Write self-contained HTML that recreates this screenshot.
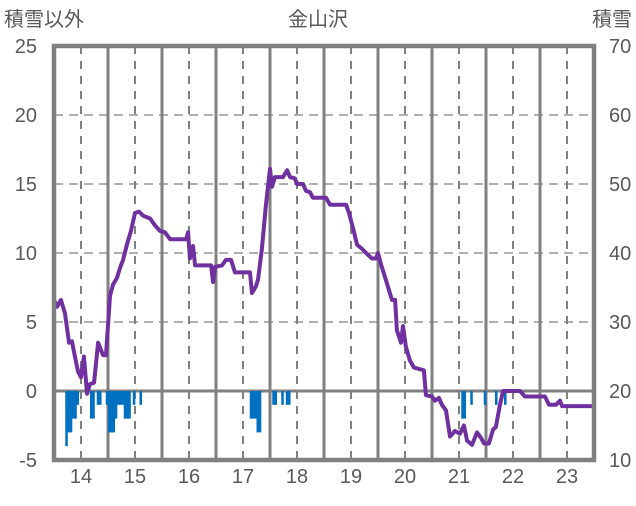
<!DOCTYPE html>
<html><head><meta charset="utf-8"><style>
body{margin:0;background:#fff}
svg text{font-family:"Liberation Sans","Noto Sans CJK JP",sans-serif;fill:#595959}
</style></head><body>
<svg id="c" width="636" height="501" xmlns="http://www.w3.org/2000/svg"></svg>
<script>
const lineHours=[0,1.3,3.1,4.9,6.7,8,9.3,10.7,12,13.3,14.7,16,17.8,19.6,21.8,23.1,24.9,26.2,28,29.3,30.7,32.4,34.2,36,37.8,39.6,42.7,44.9,47.1,49.3,51.6,58.7,59.6,60.4,61.8,62.7,69.8,70.7,71.6,74.7,76.4,78.7,80.4,87.1,88,89.8,90.7,92.4,94.2,96,96.9,98.2,101.8,103.6,104.9,107.1,108,110.7,112,113.8,115.1,120.9,122.7,129.8,131.1,132.9,134.7,136.9,138.7,141.3,143.1,144,145.3,147.6,148.9,150.2,151.6,152.4,154.2,155.1,156.4,158.2,160,164.4,165.3,168,169.3,171.1,172.4,174.2,176,178.2,180.4,182.2,183.6,185.8,188,189.8,191.1,193.3,195.1,196.4,198.2,199.6,207.1,209.3,218.2,220,223.1,224.9,225.8,239.1];
const lineValues=[6.6,6.1,6.6,5.6,3.5,3.6,2.5,1.4,1.0,2.5,-0.2,0.5,0.6,3.5,2.6,2.6,6.9,7.7,8.2,8.9,9.5,10.6,11.6,12.9,13,12.7,12.5,12,11.6,11.5,11,11,11.5,9.6,10.5,9.1,9.1,7.9,9,9.1,9.5,9.5,8.6,8.6,7.1,7.6,8.1,10.3,13.5,16.1,14.8,15.5,15.5,16,15.5,15.4,15,15,14.5,14.4,14,14,13.5,13.5,12.9,11.8,10.6,10.3,10,9.6,9.6,10,9.2,8.0,7.3,6.6,6.6,4.4,3.5,4.7,3.2,2.2,1.7,1.5,-0.3,-0.4,-0.7,-0.5,-1,-1.4,-3.3,-2.9,-3.1,-2.5,-3.6,-3.9,-3.0,-3.4,-3.8,-3.8,-2.8,-2.6,-1.0,0,0,-0.4,-0.4,-1,-1,-0.7,-1.1,-1.1];
const barHours=[5,6,7,8,9,10,16,17,19,20,23,24,25,26,27,28,29,30,31,32,33,35,38,87,88,89,90,91,97,98,101,103,104,181,182,185,191,196,200];
const barValues=[-4,-3,-3,-2,-2,-1,-2,-2,-1,-1,-1,-3,-3,-3,-2,-1,-1,-1,-2,-2,-2,-1,-1,-2,-2,-2,-3,-3,-1,-1,-1,-1,-1,-2,-2,-1,-1,-1,-1];
const leftTicks=[-5,0,5,10,15,20,25];
const rightTicks=[10,20,30,40,50,60,70];
const dayLabels=["14","15","16","17","18","19","20","21","22","23"];
const NS="http://www.w3.org/2000/svg",svg=document.getElementById('c');
const X0=54,X1=594,Y0=46,Y1=460;
const xs=h=>X0+h*(X1-X0)/240;
const ys=v=>Y1-(v+5)*(Y1-Y0)/30;
function mk(t,a,p){const e=document.createElementNS(NS,t);for(const k in a)e.setAttribute(k,a[k]);(p||svg).appendChild(e);return e;}
leftTicks.forEach((v,i)=>{
 if(v>-5&&v<25){const g=mk('line',{x1:X0,x2:X1,y1:ys(v),y2:ys(v),stroke:v===0?'#808080':'#b0b0b0','stroke-width':v===0?3:2,'stroke-dasharray':v===0?'':'9,6'});
 
 }
 const t=mk('text',{x:37,y:ys(v)+7,'text-anchor':'end','font-size':20});t.textContent=v;
 
 
 const r=mk('text',{x:609,y:ys(v)+7,'font-size':20});r.textContent=rightTicks[i];
 
 
});
dayLabels.forEach((d,i)=>{
 const xm=xs(i*24+12);
 const g=mk('line',{x1:xm,x2:xm,y1:Y0,y2:Y1,stroke:'#808080','stroke-width':2,'stroke-dasharray':'8,7'});
 
 
 if(i>0){const s=mk('line',{x1:xs(i*24),x2:xs(i*24),y1:Y0,y2:Y1,stroke:'#808080','stroke-width':3});
 
 }
 const t=mk('text',{x:xm,y:483,'text-anchor':'middle','font-size':20});t.textContent=d;
 
 
});
barHours.forEach((h,i)=>{
 const v=barValues[i];
 const b=mk('rect',{x:xs(h),y:ys(0),width:xs(1)-xs(0)+0.3,height:ys(v)-ys(0),fill:'#0070c0'});
 
 
});
const p=mk('polyline',{points:lineHours.map((h,i)=>xs(h)+','+ys(lineValues[i])).join(' '),fill:'none',stroke:'#7030a0','stroke-width':4,'stroke-linejoin':'round'});


const f=mk('rect',{x:X0,y:Y0,width:X1-X0,height:Y1-Y0,fill:'none',stroke:'#808080','stroke-width':4.5});


[['積雪以外',4,26,'start','left-axis-title'],['金山沢',318,26,'middle','chart-title'],['積雪',632,26,'end','right-axis-title']].forEach(a=>{
 const t=mk('text',{x:a[1],y:a[2],'text-anchor':a[3],'font-size':20});t.textContent=a[0];
 
 
});
</script>
</body></html>
